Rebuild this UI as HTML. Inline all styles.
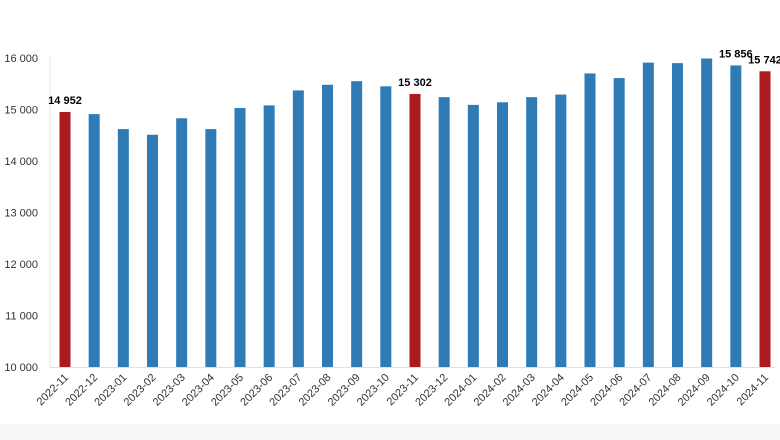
<!DOCTYPE html>
<html><head><meta charset="utf-8"><style>
html,body{margin:0;padding:0;background:#fff}
svg{display:block;font-family:"Liberation Sans",sans-serif}
</style></head><body>
<svg width="780" height="440">
<rect x="0" y="424" width="780" height="16" fill="#f7f7f7"/>
<g id="yaxis"></g>
<g id="bars"></g>
<g id="xaxis"></g>
</svg>
<script>
const categories=["2022-11","2022-12","2023-01","2023-02","2023-03","2023-04","2023-05","2023-06","2023-07","2023-08","2023-09","2023-10","2023-11","2023-12","2024-01","2024-02","2024-03","2024-04","2024-05","2024-06","2024-07","2024-08","2024-09","2024-10","2024-11"];
const values=[14952,14910,14620,14510,14830,14620,15030,15080,15370,15480,15550,15450,15302,15240,15090,15140,15240,15290,15700,15610,15910,15900,15990,15856,15742];
const highlighted=[0,12,24];
const labeled=[0,12,23,24];
const yTicks=[10000,11000,12000,13000,14000,15000,16000];
const yTickLabels=["10 000","11 000","12 000","13 000","14 000","15 000","16 000"];
const ns="http://www.w3.org/2000/svg";
const y=v=>367-(v-10000)*(309/6000);
const x=i=>65+i*(700/24);
function mk(t,a,p){const e=document.createElementNS(ns,t);for(const k in a)e.setAttribute(k,a[k]);p.appendChild(e);return e;}
const ya=document.getElementById('yaxis'),bg=document.getElementById('bars'),xa=document.getElementById('xaxis');
const axl=mk('line',{x1:50,x2:50,y1:55,y2:367,stroke:'#e0e0e0'},ya);


const bl=mk('line',{x1:50,x2:775,y1:367.5,y2:367.5,stroke:'#e0e0e0'},xa);


yTicks.forEach((t,i)=>{const e=mk('text',{x:38,y:y(t)+4,'text-anchor':'end','font-size':11,fill:'#333'},ya);e.textContent=yTickLabels[i];

});
values.forEach((v,i)=>{const r=mk('rect',{x:x(i)-5.5,y:y(v),width:11,height:367-y(v),fill:highlighted.includes(i)?'#ac1a1d':'#2e7bb6'},bg);


if(labeled.includes(i)){const t=mk('text',{x:x(i),y:y(v)-8,'text-anchor':'middle','font-size':11,'font-weight':'bold',fill:'#000'},bg);t.textContent=String(v).replace(/(\d+)(\d{3})$/,'$1 $2');

}
const l=mk('text',{transform:`translate(${x(i)+4},378) rotate(-45)`,'text-anchor':'end','font-size':11,fill:'#333'},xa);l.textContent=categories[i];

});
</script>
</body></html>
